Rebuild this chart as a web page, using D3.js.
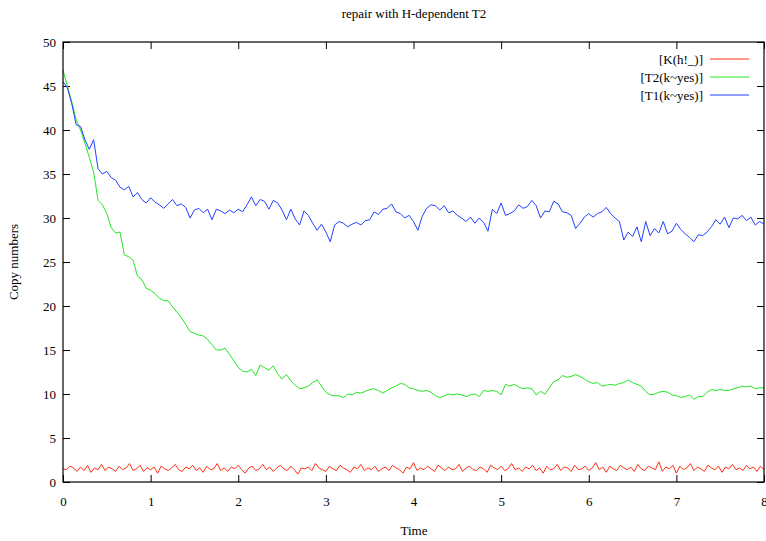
<!DOCTYPE html>
<html>
<head>
<meta charset="utf-8">
<script src="https://cdn.jsdelivr.net/npm/d3@7"></script>
<style>
  body { margin: 0; background: #fff; }
  text { font-family: "Liberation Serif", "DejaVu Serif", serif; }
</style>
</head>
<body>
<div id="chart"></div>
<script>
// data
var seriesNames = ["[K(h!_)]", "[T2(k~yes)]", "[T1(k~yes)]"];
var seriesColors = ["#ff3010", "#22e622", "#2040ff"];
var xTicks = [0, 1, 2, 3, 4, 5, 6, 7, 8];
var yTicks = [0, 5, 10, 15, 20, 25, 30, 35, 40, 45, 50];

// T1, sampled every 0.05 time units
var t1Step = 0.05;
var t1Vals = [
  45.5, 44.8, 43.0, 40.6, 40.4, 38.9, 37.8, 38.9, 35.6, 35.0,
  35.3, 34.6, 34.3, 33.5, 33.2, 33.6, 32.4, 32.9, 32.1, 31.7,
  32.3, 31.8, 31.5, 31.1, 31.6, 32.1, 31.4, 31.6, 31.2, 30.0,
  30.9, 31.1, 30.6, 31.0, 29.8, 31.0, 30.8, 30.5, 30.9, 30.6,
  31.0, 30.7, 31.5, 32.4, 31.4, 32.1, 31.9, 31.0, 32.0, 31.7,
  30.9, 29.8, 31.0, 29.9, 29.2, 30.8, 30.3, 29.4, 28.6, 29.3,
  28.4, 27.3, 29.2, 29.6, 29.4, 29.0, 29.3, 29.5, 29.2, 29.7,
  29.8, 30.7, 30.4, 31.0, 31.1, 31.6, 30.7, 30.5, 30.0, 30.3,
  29.6, 28.6, 30.2, 31.1, 31.5, 31.4, 30.9, 31.4, 30.6, 30.8,
  30.3, 30.0, 29.6, 30.1, 29.4, 30.0, 29.5, 28.5, 31.0, 30.5,
  31.7, 30.3, 30.5, 30.8, 31.5, 31.1, 31.3, 32.0, 31.4, 30.0,
  30.8, 30.7, 31.9, 31.6, 30.7, 30.6, 30.3, 28.8, 29.4, 30.1,
  30.5, 30.1, 30.5, 30.7, 31.2, 30.5, 30.0, 29.6, 27.5, 28.4,
  27.9, 29.0, 27.3, 29.6, 28.0, 28.8, 28.3, 29.6, 28.2, 28.5,
  29.4, 28.7, 28.2, 27.8, 27.3, 28.1, 28.0, 28.4, 29.0, 29.8,
  29.3, 30.1, 28.9, 30.0, 29.9, 30.3, 29.7, 30.1, 29.2, 29.6,
  29.3
];

// T2, sampled every 0.05 time units
var t2Step = 0.05;
var t2Vals = [
  46.8, 45.0, 43.2, 41.2, 40.0, 38.5, 36.9, 35.2, 32.0, 31.5,
  30.5, 28.9, 28.3, 28.4, 25.8, 25.6, 25.2, 23.4, 23.0, 22.0,
  21.8, 21.4, 20.9, 20.6, 20.6, 19.9, 19.3, 18.7, 17.9, 17.1,
  16.9, 16.7, 16.6, 16.2, 15.6, 15.0, 15.0, 15.2, 14.5, 13.8,
  13.0, 12.6, 12.5, 12.8, 12.1, 13.3, 13.0, 12.7, 13.2, 12.3,
  11.7, 12.2, 11.5, 11.0, 10.6, 10.7, 10.9, 11.3, 11.6, 10.9,
  10.2, 9.9, 9.8, 9.8, 9.6, 10.0, 9.9, 10.2, 10.1, 10.3,
  10.5, 10.6, 10.4, 10.1, 10.4, 10.7, 10.9, 11.2, 11.1, 10.7,
  10.6, 10.4, 10.3, 10.4, 10.2, 9.8, 9.6, 9.8, 10.0, 9.9,
  10.0, 9.9, 9.7, 9.9, 10.0, 9.7, 10.4, 10.3, 10.4, 10.3,
  9.9, 11.1, 10.9, 11.1, 10.8, 10.6, 10.7, 10.6, 9.9, 10.3,
  10.0, 10.7, 11.4, 11.6, 12.1, 11.9, 12.0, 12.2, 12.0, 11.7,
  11.4, 11.2, 11.3, 10.9, 11.0, 11.1, 11.0, 11.2, 11.3, 11.6,
  11.3, 11.1, 10.9, 10.3, 9.9, 10.0, 10.2, 10.3, 10.2, 9.9,
  9.8, 9.6, 9.7, 9.9, 9.4, 9.7, 9.7, 10.2, 10.5, 10.4,
  10.5, 10.4, 10.4, 10.6, 10.7, 10.9, 10.8, 10.9, 10.6, 10.7,
  10.7
];

// K(h!_), sampled every 0.04 time units
var kStep = 0.04;
var kVals = [
  1.5, 1.4, 1.8, 1.6, 1.2, 1.7, 1.3, 1.9, 1.1, 1.6,
  1.4, 2.0, 1.3, 1.7, 1.5, 1.2, 1.8, 1.4, 1.6, 2.1,
  1.3, 1.5, 1.9, 1.2, 1.6, 1.4, 1.7, 1.0, 1.8, 1.5,
  1.3, 1.6, 2.0, 1.4, 1.2, 1.7, 1.5, 1.9, 1.3, 1.6,
  1.1, 1.8, 1.4, 1.5, 2.1, 1.3, 1.6, 1.2, 1.7, 1.5,
  1.9, 1.4, 1.0, 1.6, 1.8, 1.3, 1.5, 2.0, 1.4, 1.7,
  1.2, 1.6, 1.9, 1.5, 1.3, 1.8, 1.4, 0.9, 1.6, 1.5,
  1.7, 1.3, 2.1, 1.6, 1.4, 1.2, 1.8, 1.5, 1.3, 1.9,
  1.6, 1.4, 1.1, 1.7, 1.5, 2.0, 1.3, 1.6, 1.4, 1.8,
  1.2, 1.5, 1.7, 1.3, 1.9, 1.6, 1.4, 1.0, 1.7, 1.5,
  2.2, 1.3, 1.6, 1.4, 1.8, 1.5, 1.2, 1.9, 1.6, 1.3,
  1.7, 1.4, 1.5, 2.0, 1.2, 1.6, 1.8, 1.4, 1.3, 1.7,
  1.5, 1.1, 1.9, 1.6, 1.4, 1.8, 1.3, 1.5, 2.1, 1.4,
  1.6, 1.2, 1.7, 1.5, 1.9, 1.3, 1.6, 1.0, 1.8, 1.4,
  1.5, 2.0, 1.3, 1.7, 1.6, 1.2, 1.9, 1.4, 1.5, 1.8,
  1.3, 1.6, 2.2, 1.4, 1.7, 1.1, 1.8, 1.5, 1.3, 1.9,
  1.6, 1.4, 1.7, 1.2, 2.0, 1.5, 1.3, 1.8, 1.6, 1.4,
  2.3, 1.2, 1.7, 1.5, 1.9, 1.0, 1.8, 1.4, 1.6, 2.1,
  1.3, 1.7, 1.5, 1.2, 1.9, 1.6, 1.4, 1.8, 1.1, 1.7,
  1.5, 2.0, 1.4, 1.6, 1.3, 1.9, 1.5, 1.7, 1.2, 1.8,
  1.4
];

var margin = {top: 42, right: 2, bottom: 59, left: 63},
    width = 766 - margin.left - margin.right,
    height = 541 - margin.top - margin.bottom;

var svg = d3.select("#chart")
  .append("svg")
    .attr("width", 766)
    .attr("height", 541);

var g = svg.append("g")
    .attr("transform", "translate(" + margin.left + "," + margin.top + ")");

var x = d3.scaleLinear().domain([0, 8]).range([0, width]);
var y = d3.scaleLinear().domain([0, 50]).range([height, 0]);

// axes, ticks pointing inward on all four sides
g.append("g")
  .attr("transform", "translate(0," + height + ")")
  .call(d3.axisBottom(x).tickValues(xTicks).tickSize(-7).tickPadding(15).tickFormat(d3.format("d")));
g.append("g")
  .call(d3.axisTop(x).tickValues(xTicks).tickSize(-7).tickFormat(""));
g.append("g")
  .call(d3.axisLeft(y).tickValues(yTicks).tickSize(-7).tickPadding(7).tickFormat(d3.format("d")));
g.append("g")
  .attr("transform", "translate(" + width + ",0)")
  .call(d3.axisRight(y).tickValues(yTicks).tickSize(-7).tickFormat(""));

g.selectAll(".domain").remove();
g.selectAll(".tick line").attr("stroke", "#000");
g.selectAll(".tick text")
  .style("font-family", "'Liberation Serif', serif")
  .style("font-size", "13px")
  .attr("fill", "#000");

// lines
function toPoints(vals, step) {
  return vals.map(function(v, i) { return [i * step, v]; });
}
var series = [
  toPoints(kVals, kStep),
  toPoints(t2Vals, t2Step),
  toPoints(t1Vals, t1Step)
];

var line = d3.line()
  .x(function(d) { return x(d[0]); })
  .y(function(d) { return y(d[1]); });

series.forEach(function(pts, i) {
  g.append("path")
    .datum(pts)
    .attr("fill", "none")
    .attr("stroke", seriesColors[i])
    .attr("stroke-width", 1)
    .attr("d", line);
});

// frame
g.append("rect")
  .attr("width", width)
  .attr("height", height)
  .attr("fill", "none")
  .attr("stroke", "#000")
  .attr("stroke-width", 1.2);

// legend
var legend = g.append("g");
seriesNames.forEach(function(name, i) {
  var ly = 17 + i * 18;
  legend.append("text")
    .attr("x", 640)
    .attr("y", ly)
    .attr("dy", "0.35em")
    .attr("text-anchor", "end")
    .style("font-size", "13px")
    .text(name);
  legend.append("line")
    .attr("x1", 647).attr("x2", 686)
    .attr("y1", ly).attr("y2", ly)
    .attr("stroke", seriesColors[i])
    .attr("stroke-width", 1);
});

// titles
svg.append("text")
  .attr("x", 414).attr("y", 18)
  .attr("text-anchor", "middle")
  .style("font-size", "13px")
  .text("repair with H-dependent T2");

svg.append("text")
  .attr("x", 414).attr("y", 535)
  .attr("text-anchor", "middle")
  .style("font-size", "13px")
  .text("Time");

svg.append("text")
  .attr("transform", "translate(18,262) rotate(-90)")
  .attr("text-anchor", "middle")
  .style("font-size", "13px")
  .text("Copy numbers");
</script>
</body>
</html>
